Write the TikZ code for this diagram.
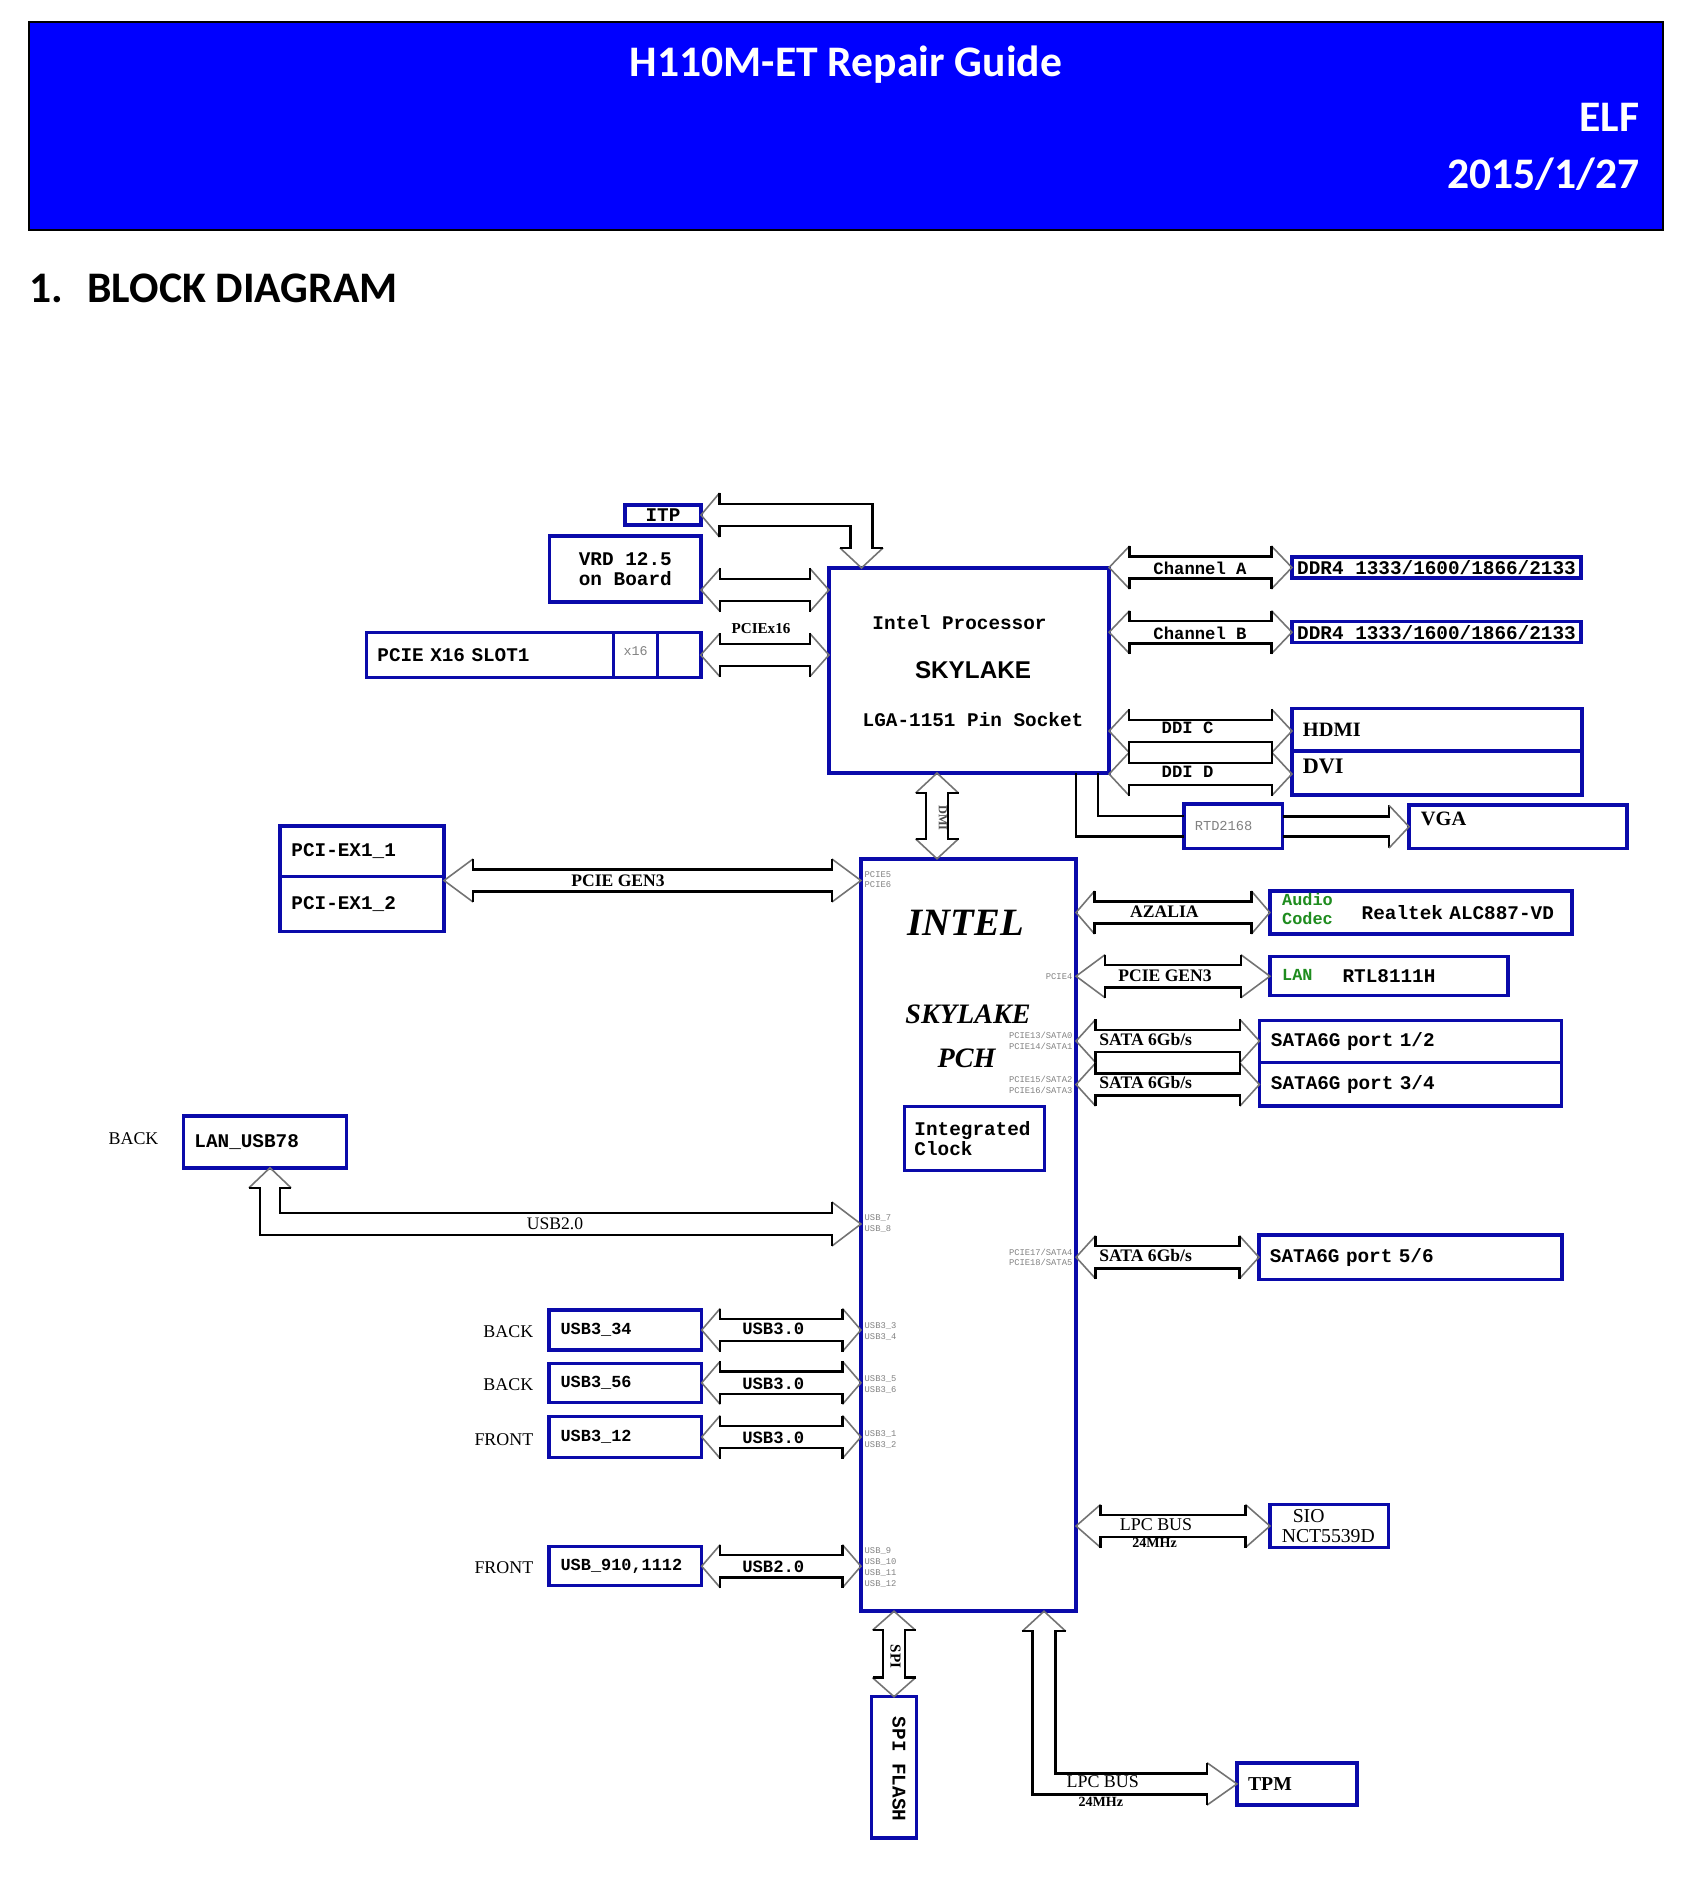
\documentclass[tikz,border=0pt]{standalone}
\usepackage{fontspec}
\setmainfont{Liberation Serif}
\newfontfamily\monofont{Liberation Mono}
\newfontfamily\headfont{Carlito}
\newfontfamily\cpufont{Liberation Sans}
\usetikzlibrary{calc}
\definecolor{headblue}{RGB}{0,0,255}
\definecolor{boxblue}{RGB}{10,10,170}
\definecolor{codecgreen}{RGB}{30,140,30}
\definecolor{pingray}{RGB}{130,130,130}

\tikzset{
  box/.style={draw=boxblue, line width=1pt, outer sep=0pt, inner sep=0pt, align=left,
    font=\monofont\bfseries\fontsize{5.5}{5.7}\selectfont},
  busline/.style={draw=black, line width=0.7pt},
  bushead/.style={draw=black!55, line width=0.45pt},
  buslabel/.style={inner sep=0pt, font=\bfseries\fontsize{5}{5}\selectfont},
  monolabel/.style={inner sep=0pt, font=\monofont\bfseries\fontsize{4.9}{5}\selectfont},
  side/.style={inner sep=0pt, font=\fontsize{5.1}{5.1}\selectfont},
  pin/.style={inner sep=0pt, text=pingray, font=\monofont\fontsize{2.5}{2.6}\selectfont},
  head/.style={inner sep=0pt, font=\headfont\bfseries\fontsize{12.4}{14}\selectfont},
}

% horizontal bus: head length, left tip, right tip
\newcommand{\hbus}[3]{%
  \draw[bushead] let \p1=#2, \p2=#3 in
    (\x1+#1,\y1+0.215cm) -- (\x1,\y1) -- (\x1+#1,\y1-0.215cm)
    (\x2-#1,\y1+0.215cm) -- (\x2,\y1) -- (\x2-#1,\y1-0.215cm);
  \draw[busline] let \p1=#2, \p2=#3 in
    (\x1+#1,\y1+0.215cm) -- (\x1+#1,\y1+0.112cm) -- (\x2-#1,\y1+0.112cm) -- (\x2-#1,\y1+0.215cm)
    (\x1+#1,\y1-0.215cm) -- (\x1+#1,\y1-0.112cm) -- (\x2-#1,\y1-0.112cm) -- (\x2-#1,\y1-0.215cm);
}
% vertical bus: head length, top tip, bottom tip
\newcommand{\vbus}[3]{%
  \draw[bushead] let \p1=#2, \p2=#3 in
    (\x1-0.215cm,\y1-#1) -- (\x1,\y1) -- (\x1+0.215cm,\y1-#1)
    (\x1-0.215cm,\y2+#1) -- (\x1,\y2) -- (\x1+0.215cm,\y2+#1);
  \draw[busline] let \p1=#2, \p2=#3 in
    (\x1-0.215cm,\y1-#1) -- (\x1-0.112cm,\y1-#1) -- (\x1-0.112cm,\y2+#1) -- (\x1-0.215cm,\y2+#1)
    (\x1+0.215cm,\y1-#1) -- (\x1+0.112cm,\y1-#1) -- (\x1+0.112cm,\y2+#1) -- (\x1+0.215cm,\y2+#1);
}

\begin{document}
\begin{tikzpicture}[x=0.01cm, y=-0.01cm]
  \fill[white] (0,0) rectangle (1691,1888);
  \useasboundingbox (0,0) rectangle (1691,1888);

  % title block
  \draw[fill=headblue, line width=0.4pt] (29,22) rectangle (1663,230);
  \node[head, text=white, anchor=base] (title) at (846,77) {H110M-ET Repair Guide};
  \node[head, text=white, anchor=base east] (author) at (1640,132) {ELF};
  \node[head, text=white, anchor=base east] (date) at (1640,189) {2015/1/27};
  \node[head, anchor=base west] (section) at (29,302) {1.\hspace{0.24cm}BLOCK DIAGRAM};

  % processor
  \node[box, minimum width=2.80cm, minimum height=2.05cm] (cpu) at (969,670.5) {};
  \node[inner sep=0pt, font=\monofont\bfseries\fontsize{5.5}{5.7}\selectfont] (cpuname) at (959.5,623) {Intel Processor};
  \node[inner sep=0pt, font=\cpufont\bfseries\fontsize{6.9}{7}\selectfont] (cpucore) at (973,670) {SKYLAKE};
  \node[inner sep=0pt, font=\monofont\bfseries\fontsize{5.5}{5.7}\selectfont] (cpusocket) at (973,720) {LGA-1151 Pin Socket};

  \node[box, minimum width=0.76cm, minimum height=0.20cm, align=center] (itp) at (663,515) {ITP};
  \node[box, minimum width=1.515cm, minimum height=0.66cm] (vrd) at (625.3,569) {VRD 12.5\\on Board};
  \node[box, minimum width=3.343cm, minimum height=0.45cm, text width=3.12cm] (slot) at (533.5,654.8) {PCIE X16 SLOT1};
  \draw[boxblue, line width=1pt] (613.7,0 |- slot.north) -- (613.7,0 |- slot.south);
  \draw[boxblue, line width=1pt] (657.5,0 |- slot.north) -- (657.5,0 |- slot.south);
  \node[inner sep=0pt, text=pingray, font=\monofont\fontsize{3.8}{4}\selectfont] (lanes) at (635.6,651) {x16};

  \node[box, minimum width=2.89cm, minimum height=0.21cm, align=center] (ddra) at (1436.5,567.5) {DDR4 1333/1600/1866/2133};
  \node[box, minimum width=2.89cm, minimum height=0.21cm, align=center] (ddrb) at (1436.5,632.2) {DDR4 1333/1600/1866/2133};
  \node[box, minimum width=2.90cm, minimum height=0.427cm, text width=2.68cm, font=\bfseries\fontsize{5.8}{6}\selectfont] (hdmi) at (1437,729.7) {HDMI};
  \node[box, minimum width=2.90cm, minimum height=0.44cm, text width=2.68cm, text depth=0.14cm, font=\bfseries\fontsize{6.3}{6.5}\selectfont] (dvi) at (1437,773) {DVI};
  \node[box, minimum width=0.987cm, minimum height=0.443cm, text width=0.77cm, text=pingray, font=\monofont\fontsize{3.9}{4}\selectfont] (rtd) at (1233.3,826.2) {RTD2168};
  \node[box, minimum width=2.178cm, minimum height=0.433cm, text width=1.94cm, text depth=0.16cm, font=\bfseries\fontsize{5.8}{6}\selectfont] (vga) at (1518,826.7) {VGA};

  % PCH
  \node[box, minimum width=2.15cm, minimum height=7.52cm] (pch) at (968.5,1235) {};
  \node[inner sep=0pt, font=\bfseries\itshape\fontsize{11}{11}\selectfont] (pchbrand) at (965.6,923.3) {INTEL};
  \node[inner sep=0pt, font=\bfseries\itshape\fontsize{8}{8}\selectfont] (pchcore) at (968,1014) {SKYLAKE};
  \node[inner sep=0pt, font=\bfseries\itshape\fontsize{8}{8}\selectfont] (pchname) at (966.5,1058) {PCH};
  \node[box, minimum width=1.40cm, minimum height=0.64cm, text width=1.20cm] (clk) at (974.5,1138.7) {Integrated\\Clock};

  \node[box, minimum width=1.64cm, minimum height=0.507cm, text width=1.41cm] (pex1) at (362,851.3) {PCI-EX1\_1};
  \node[box, minimum width=1.64cm, minimum height=0.55cm, text width=1.41cm] (pex2) at (362,904.2) {PCI-EX1\_2};

  \node[box, minimum width=3.017cm, minimum height=0.43cm, text width=2.66cm, align=right] (audio) at (1420.8,912.5) {Realtek ALC887-VD};
  \node[inner sep=0pt, anchor=west, align=left, text=codecgreen, font=\monofont\bfseries\fontsize{4.8}{5.2}\selectfont] (codec) at (1281.5,909) {Audio\\Codec};
  \node[box, minimum width=2.38cm, minimum height=0.39cm, align=center] (lan) at (1389,976.2) {RTL8111H};
  \node[inner sep=0pt, anchor=west, text=codecgreen, font=\monofont\bfseries\fontsize{4.8}{5.2}\selectfont] (lanlabel) at (1281.5,975) {LAN};
  \node[box, minimum width=3.02cm, minimum height=0.416cm, text width=2.79cm] (sata12) at (1410.5,1041.5) {SATA6G port 1/2};
  \node[box, minimum width=3.02cm, minimum height=0.437cm, text width=2.79cm] (sata34) at (1410.5,1084.2) {SATA6G port 3/4};
  \node[box, minimum width=3.03cm, minimum height=0.443cm, text width=2.81cm] (sata56) at (1410.5,1257.2) {SATA6G port 5/6};

  \node[box, minimum width=1.632cm, minimum height=0.517cm, text width=1.41cm] (lanusb) at (265,1141.9) {LAN\_USB78};
  \node[box, minimum width=1.527cm, minimum height=0.40cm, text width=1.293cm, font=\monofont\bfseries\fontsize{4.8}{5}\selectfont] (usb34) at (625.3,1330) {USB3\_34};
  \node[box, minimum width=1.527cm, minimum height=0.39cm, text width=1.293cm, font=\monofont\bfseries\fontsize{4.8}{5}\selectfont] (usb56) at (625.3,1382.8) {USB3\_56};
  \node[box, minimum width=1.527cm, minimum height=0.406cm, text width=1.293cm, font=\monofont\bfseries\fontsize{4.8}{5}\selectfont] (usb12) at (625.3,1437) {USB3\_12};
  \node[box, minimum width=1.527cm, minimum height=0.39cm, text width=1.293cm, font=\monofont\bfseries\fontsize{4.8}{5}\selectfont] (usb910) at (625.3,1566.2) {USB\_910,1112};

  \node[box, minimum width=1.186cm, minimum height=0.434cm, text width=0.95cm, font=\fontsize{5.6}{5.5}\selectfont] (sio) at (1329.3,1526) {\hspace*{0.11cm}SIO\\NCT5539D};
  \node[box, minimum width=0.452cm, minimum height=1.41cm] (flash) at (894,1767.2) {};
  \node[inner sep=0pt, rotate=-90, font=\monofont\bfseries\fontsize{5.5}{5.7}\selectfont] (flashname) at (899,1769) {SPI FLASH};
  \node[box, minimum width=1.202cm, minimum height=0.423cm, text width=0.98cm, font=\bfseries\fontsize{5.6}{6}\selectfont] (tpm) at (1297.1,1783.9) {TPM};

  % side labels
  \node[side, anchor=west] (back78) at (107.9,1139) {BACK};
  \node[side, anchor=east] (back34) at (534,1332) {BACK};
  \node[side, anchor=east] (back56) at (534,1385) {BACK};
  \node[side, anchor=east] (front12) at (534,1440) {FRONT};
  \node[side, anchor=east] (front910) at (534,1568) {FRONT};

  % buses around the processor
  \draw[bushead] let \p1=(itp.east), \p2=(cpu.north -| 861.5,0) in
    (\x1+0.185cm,\y1+0.22cm) -- (\x1,\y1) -- (\x1+0.185cm,\y1-0.22cm)
    (\x2-0.215cm,\y2+0.2cm) -- (\x2,\y2) -- (\x2+0.215cm,\y2+0.2cm);
  \draw[busline] let \p1=(itp.east), \p2=(cpu.north -| 861.5,0) in
    (\x1+0.185cm,\y1+0.22cm) -- (\x1+0.185cm,\y1+0.11cm) -- (\x2+0.11cm,\y1+0.11cm) -- (\x2+0.11cm,\y2+0.2cm) -- (\x2+0.215cm,\y2+0.2cm)
    (\x1+0.185cm,\y1-0.22cm) -- (\x1+0.185cm,\y1-0.11cm) -- (\x2-0.11cm,\y1-0.11cm) -- (\x2-0.11cm,\y2+0.2cm) -- (\x2-0.215cm,\y2+0.2cm);
  \hbus{0.19cm}{(vrd.east |- 0,590)}{(cpu.west |- 0,590)}
  \hbus{0.19cm}{(slot.east |- 0,655)}{(cpu.west |- 0,655)}
  \node[buslabel, font=\bfseries\fontsize{4.3}{4.3}\selectfont] (pcielabel) at (761,629) {PCIEx16};
  \hbus{0.205cm}{(cpu.east |- ddra.west)}{(ddra.west)}
  \hbus{0.205cm}{(cpu.east |- ddrb.west)}{(ddrb.west)}
  \node[monolabel] (chalabel) at (1200,568) {Channel A};
  \node[monolabel] (chblabel) at (1200,633) {Channel B};
  \hbus{0.2cm}{(cpu.east |- 0,731)}{(hdmi.west |- 0,731)}
  \hbus{0.2cm}{(cpu.east |- 0,774)}{(dvi.west |- 0,774)}
  \node[monolabel] (ddiclabel) at (1187.5,728) {DDI C};
  \node[monolabel] (ddidlabel) at (1187.5,771.7) {DDI D};
  \draw[busline] (cpu.south -| 1076,0) |- (rtd.west |- 0,836.7);
  \draw[busline] (cpu.south -| 1098,0) |- (rtd.west |- 0,816);
  \draw[busline] let \p1=(rtd.east), \p2=(vga.west) in
    (\x1,\y2+0.1cm) -- (\x2-0.2cm,\y2+0.1cm) -- (\x2-0.2cm,\y2+0.213cm)
    (\x1,\y2-0.1cm) -- (\x2-0.2cm,\y2-0.1cm) -- (\x2-0.2cm,\y2-0.213cm);
  \draw[bushead] let \p2=(vga.west) in (\x2-0.2cm,\y2+0.213cm) -- (\x2,\y2) -- (\x2-0.2cm,\y2-0.213cm);
  \vbus{0.2cm}{(cpu.south -| 937,0)}{(pch.north -| 937,0)}
  \node[inner sep=0pt, rotate=-90, text=black!70, font=\bfseries\fontsize{3.5}{3.5}\selectfont] (dmilabel) at (943,818) {DMI};

  % buses around the PCH
  \hbus{0.29cm}{(pex1.east |- 0,880.5)}{(pch.west |- 0,880.5)}
  \node[buslabel] (pexlabel) at (618,881) {PCIE GEN3};
  \hbus{0.185cm}{(pch.east |- audio.west)}{(audio.west)}
  \node[buslabel] (azalabel) at (1164.4,911.7) {AZALIA};
  \hbus{0.29cm}{(pch.east |- lan.west)}{(lan.west)}
  \node[buslabel] (lanbus) at (1165,975.7) {PCIE GEN3};
  \hbus{0.195cm}{(pch.east |- 0,1041)}{(sata12.west |- 0,1041)}
  \hbus{0.195cm}{(pch.east |- 0,1084.5)}{(sata34.west |- 0,1084.5)}
  \hbus{0.195cm}{(pch.east |- sata56.west)}{(sata56.west)}
  \node[buslabel, anchor=west] (sataa) at (1098.7,1039) {SATA 6Gb/s};
  \node[buslabel, anchor=west] (satab) at (1098.7,1082.7) {SATA 6Gb/s};
  \node[buslabel, anchor=west] (satac) at (1098.6,1255) {SATA 6Gb/s};

  \draw[bushead] let \p1=(lanusb.south -| 270,0), \p2=(pch.west |- 0,1224) in
    (\x1-0.21cm,\y1-0.2cm) -- (\x1,\y1) -- (\x1+0.21cm,\y1-0.2cm)
    (\x2-0.29cm,\y2+0.22cm) -- (\x2,\y2) -- (\x2-0.29cm,\y2-0.22cm);
  \draw[busline] let \p1=(lanusb.south -| 270,0), \p2=(pch.west |- 0,1224) in
    (\x1-0.21cm,\y1-0.2cm) -- (\x1-0.1cm,\y1-0.2cm) -- (\x1-0.1cm,\y2-0.112cm) -- (\x2-0.29cm,\y2-0.112cm) -- (\x2-0.29cm,\y2-0.22cm)
    (\x1+0.21cm,\y1-0.2cm) -- (\x1+0.1cm,\y1-0.2cm) -- (\x1+0.1cm,\y2+0.112cm) -- (\x2-0.29cm,\y2+0.112cm) -- (\x2-0.29cm,\y2+0.22cm);
  \node[inner sep=0pt, font=\fontsize{5}{5}\selectfont] (usblabel) at (555,1223.3) {USB2.0};

  \hbus{0.185cm}{(usb34.east)}{(pch.west |- usb34.east)}
  \hbus{0.185cm}{(usb56.east)}{(pch.west |- usb56.east)}
  \hbus{0.185cm}{(usb12.east)}{(pch.west |- usb12.east)}
  \hbus{0.185cm}{(usb910.east)}{(pch.west |- usb910.east)}
  \node[monolabel] (usb34bus) at (773.3,1329.3) {USB3.0};
  \node[monolabel] (usb56bus) at (773.3,1383.5) {USB3.0};
  \node[monolabel] (usb12bus) at (773.3,1437.5) {USB3.0};
  \node[monolabel] (usb910bus) at (773.3,1566.7) {USB2.0};

  \hbus{0.245cm}{(pch.east |- sio.west)}{(sio.west)}
  \node[inner sep=0pt, font=\fontsize{5.1}{5.1}\selectfont] (siobus) at (1156,1524.3) {LPC BUS};
  \node[inner sep=0pt, font=\bfseries\fontsize{4}{4}\selectfont] (sioclock) at (1154.5,1543.3) {24MHz};

  \vbus{0.19cm}{(pch.south -| flash.north)}{(flash.north)}
  \node[inner sep=0pt, rotate=-90, font=\bfseries\fontsize{4.3}{4.3}\selectfont] (spilabel) at (895.5,1656.7) {SPI};

  \draw[bushead] let \p1=(pch.south -| 1044,0), \p2=(tpm.west) in
    (\x1-0.217cm,\y1-0.2cm) -- (\x1,\y1) -- (\x1+0.217cm,\y1-0.2cm)
    (\x2-0.3cm,\y2+0.212cm) -- (\x2,\y2) -- (\x2-0.3cm,\y2-0.212cm);
  \draw[busline] let \p1=(pch.south -| 1044,0), \p2=(tpm.west) in
    (\x1-0.217cm,\y1-0.2cm) -- (\x1-0.115cm,\y1-0.2cm) -- (\x1-0.115cm,\y2-0.105cm) -- (\x2-0.3cm,\y2-0.105cm) -- (\x2-0.3cm,\y2-0.212cm)
    (\x1+0.217cm,\y1-0.2cm) -- (\x1+0.115cm,\y1-0.2cm) -- (\x1+0.115cm,\y2+0.105cm) -- (\x2-0.3cm,\y2+0.105cm) -- (\x2-0.3cm,\y2+0.212cm);
  \node[inner sep=0pt, font=\fontsize{5.1}{5.1}\selectfont] (tpmbus) at (1102.7,1781.7) {LPC BUS};
  \node[inner sep=0pt, font=\bfseries\fontsize{4}{4}\selectfont] (tpmclock) at (1100.8,1801.7) {24MHz};

  % pin names on the PCH
  \node[pin, anchor=west] (pin1) at (864,875) {PCIE5};
  \node[pin, anchor=west] (pin2) at (864,885) {PCIE6};
  \node[pin, anchor=east] (pin3) at (1073,977) {PCIE4};
  \node[pin, anchor=east] (pin4) at (1073,1035) {PCIE13/SATA0};
  \node[pin, anchor=east] (pin5) at (1073,1046) {PCIE14/SATA1};
  \node[pin, anchor=east] (pin6) at (1073,1079) {PCIE15/SATA2};
  \node[pin, anchor=east] (pin7) at (1073,1090) {PCIE16/SATA3};
  \node[pin, anchor=east] (pin8) at (1073,1252) {PCIE17/SATA4};
  \node[pin, anchor=east] (pin9) at (1073,1262) {PCIE18/SATA5};
  \node[pin, anchor=west] (pin10) at (864,1218) {USB\_7};
  \node[pin, anchor=west] (pin11) at (864,1229) {USB\_8};
  \node[pin, anchor=west] (pin12) at (864,1326) {USB3\_3};
  \node[pin, anchor=west] (pin13) at (864,1337) {USB3\_4};
  \node[pin, anchor=west] (pin14) at (864,1379) {USB3\_5};
  \node[pin, anchor=west] (pin15) at (864,1390) {USB3\_6};
  \node[pin, anchor=west] (pin16) at (864,1434) {USB3\_1};
  \node[pin, anchor=west] (pin17) at (864,1445) {USB3\_2};
  \node[pin, anchor=west] (pin18) at (864,1551) {USB\_9};
  \node[pin, anchor=west] (pin19) at (864,1562) {USB\_10};
  \node[pin, anchor=west] (pin20) at (864,1573) {USB\_11};
  \node[pin, anchor=west] (pin21) at (864,1584) {USB\_12};
\end{tikzpicture}
\end{document}
